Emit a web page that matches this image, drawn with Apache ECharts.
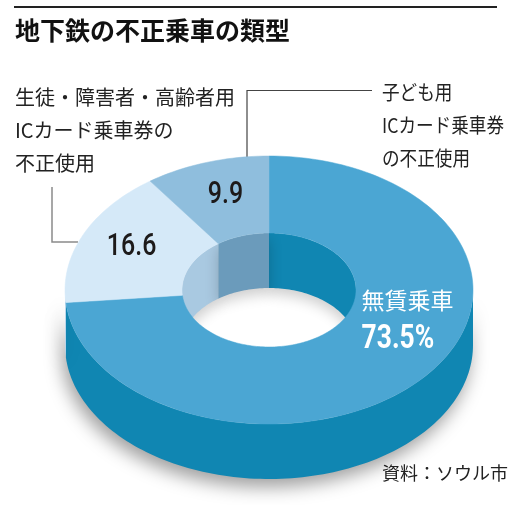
<!DOCTYPE html>
<html><head><meta charset="utf-8">
<script src="https://cdn.jsdelivr.net/npm/echarts@6/dist/echarts.min.js"></script>
<style>html,body{margin:0;padding:0;background:#fff}#c{width:521px;height:505px}</style>
</head><body><div id="c"></div>
<script>
// ---- data ----
const title = '地下鉄の不正乗車の類型';
const source = '資料：ソウル市';
const categories = ['無賃乗車', '生徒・障害者・高齢者用\nICカード乗車券の\n不正使用', '子ども用\nICカード乗車券\nの不正使用'];
const values = [73.5, 16.6, 9.9];

// ---- styles ----
const topColors = ['#4ba6d3', '#d5e9f8', '#8fbedd'];
const sideColors = ['#1086b2', '#b9d6ec', '#6e9fc0'];
const innerColors = ['#1086b2', '#a9c9e1', '#6b9bbb'];
const G = {cx: 269, cy: 290, rx: 204, ry: 134, irx: 87, iry: 57, depth: 55};
const numFont = '500 32px Roboto, "Noto Sans", sans-serif';
const cjk = '"Noto Sans CJK JP", sans-serif';
const labelNudge = [[-15, -54], [-5, -3], [1, -4]];

const total = values.reduce((a, b) => a + b, 0);
const starts = [];
let acc = 0;
values.forEach(v => { starts.push(acc / total * 360); acc += v; });

function pt(theta, rx, ry, dy) {
  const t = theta * Math.PI / 180;
  return [G.cx + rx * Math.sin(t), G.cy - ry * Math.cos(t) + (dy || 0)];
}
function arc(a1, a2, rx, ry, dy) {
  const n = Math.max(2, Math.ceil(Math.abs(a2 - a1) / 1.5));
  const out = [];
  for (let i = 0; i <= n; i++) out.push(pt(a1 + (a2 - a1) * i / n, rx, ry, dy));
  return out;
}
function clip(a1, a2, lo, hi) {
  const res = [];
  for (const s of [-360, 0, 360]) {
    const b1 = Math.max(a1 + s, lo), b2 = Math.min(a2 + s, hi);
    if (b2 > b1) res.push([b1, b2]);
  }
  return res;
}

function renderItem(params, api) {
  const i = params.dataIndex;
  const v = api.value(0);
  const a1 = starts[i], a2 = a1 + v / total * 360;
  const ch = [];
  // inner (back) wall of the hole
  clip(a1, a2, -90, 90).forEach(([b1, b2]) => {
    ch.push({
      type: 'polygon', z2: 1,
      shape: {points: arc(b1, b2, G.irx, G.iry, 0).concat(arc(b2, b1, G.irx, G.iry, G.depth))},
      style: {fill: innerColors[i], shadowBlur: 14, shadowColor: 'rgba(0,0,0,0.2)', shadowOffsetY: 6}
    });
  });
  // outer (front) wall
  clip(a1, a2, 90, 270).forEach(([b1, b2]) => {
    ch.push({
      type: 'polygon', z2: 2,
      shape: {points: arc(b1, b2, G.rx, G.ry, 0).concat(arc(b2, b1, G.rx, G.ry, G.depth))},
      style: {fill: sideColors[i], shadowBlur: 18, shadowColor: 'rgba(0,0,0,0.38)', shadowOffsetX: -3, shadowOffsetY: 8}
    });
  });
  // top face
  ch.push({
    type: 'polygon', z2: 3,
    shape: {points: arc(a1, a2, G.rx, G.ry, 0).concat(arc(a2, a1, G.irx, G.iry, 0))},
    style: {fill: topColors[i], stroke: topColors[i], lineWidth: 0.5}
  });
  // label
  const mid = (a1 + a2) / 2;
  const rm = (G.rx + G.irx) / 2, rmy = (G.ry + G.iry) / 2;
  const p = pt(mid, rm, rmy, 0);
  const x = p[0] + labelNudge[i][0], y = p[1] + labelNudge[i][1];
  if (i === 0) {
    ch.push({type: 'text', z2: 5, x: x, y: y,
      style: {text: categories[i], fill: '#fff', font: '23px ' + cjk, align: 'left', verticalAlign: 'middle'}});
    ch.push({type: 'text', z2: 5, x: x, y: y + 39, scaleX: 0.8,
      style: {text: v + '%', fill: '#fff', font: 'bold 33px Roboto, "Noto Sans", sans-serif', align: 'left', verticalAlign: 'middle'}});
  } else {
    ch.push({type: 'text', z2: 5, x: x, y: y, scaleX: 0.78,
      style: {text: String(v), fill: '#1d1a1a', font: numFont, align: 'center', verticalAlign: 'middle'}});
  }
  return {type: 'group', children: ch};
}

const chart = echarts.init(document.getElementById('c'), null, {renderer: 'canvas'});
chart.setOption({
  animation: false,
  backgroundColor: '#fff',
  series: [{
    type: 'custom',
    coordinateSystem: 'none',
    renderItem: renderItem,
    data: values
  }],
  graphic: [
    {type: 'rect', shape: {x: 14, y: 6, width: 483, height: 2}, style: {fill: '#222'}},
    {type: 'text', x: 15, y: 30, style: {text: title, font: 'bold 25px ' + cjk, fill: '#111', align: 'left', verticalAlign: 'middle'}},
    {type: 'text', x: 15, y: 80.5, style: {text: categories[1], font: '20px ' + cjk, lineHeight: 33, fill: '#222', align: 'left', verticalAlign: 'top'}},
    {type: 'text', x: 382, y: 75.5, scaleX: 0.88, style: {text: categories[2], font: '20px ' + cjk, lineHeight: 33, fill: '#222', align: 'left', verticalAlign: 'top'}},
    {type: 'polyline', shape: {points: [[78, 242], [52, 242], [52, 187]]}, style: {stroke: '#8a8a8a', lineWidth: 1.5, fill: null}},
    {type: 'polyline', shape: {points: [[247, 160], [247, 90.5], [372, 90.5]]}, style: {stroke: '#444', lineWidth: 1.2, fill: null}},
    {type: 'text', x: 508, y: 473, style: {text: source, font: '18px ' + cjk, fill: '#222', align: 'right', verticalAlign: 'middle'}}
  ]
});
</script>
</body></html>
